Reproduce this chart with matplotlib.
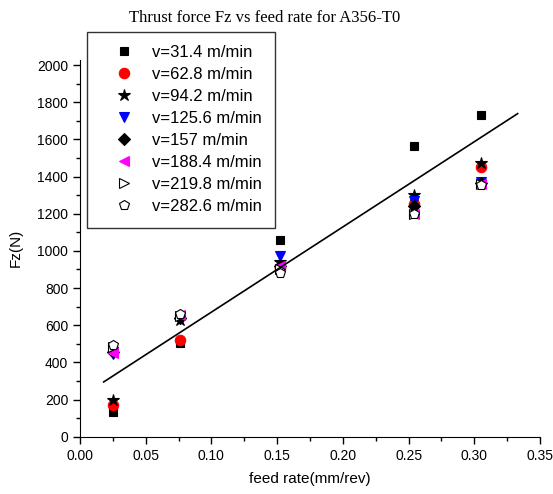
import matplotlib
matplotlib.use("Agg")
import matplotlib.pyplot as plt
import numpy as np
from matplotlib.ticker import MultipleLocator

# feed rates (mm/rev)
feed = [0.025, 0.076, 0.152, 0.254, 0.305]

# thrust force Fz (N) for each cutting speed
speeds = ["v=31.4 m/min", "v=62.8 m/min", "v=94.2 m/min", "v=125.6 m/min",
          "v=157 m/min", "v=188.4 m/min", "v=219.8 m/min", "v=282.6 m/min"]
fz_314 = [135, 505, 1060, 1565, 1730]
fz_628 = [170, 520, 910, 1250, 1450]
fz_942 = [200, 630, 940, 1300, 1475]
fz_1256 = [445, 640, 975, 1270, 1370]
fz_157 = [455, 640, 920, 1240, 1365]
fz_1884 = [450, 655, 920, 1200, 1360]
fz_2198 = [480, 650, 900, 1200, 1360]
fz_2826 = [495, 660, 880, 1200, 1355]

# fitted line
fit_slope = 4584.0
fit_intercept = 212.0
fit_x = [0.018, 0.333]

series = [fz_314, fz_628, fz_942, fz_1256, fz_157, fz_1884, fz_2198, fz_2826]
styles = [
    dict(marker='s', color='black', ms=6),
    dict(marker='o', color='red', ms=7.5),
    dict(marker='*', color='black', ms=9),
    dict(marker='v', color='blue', ms=7),
    dict(marker='D', color='black', ms=6),
    dict(marker='<', color='magenta', ms=7),
    dict(marker='>', color='black', mfc='white', ms=7),
    dict(marker='p', color='black', mfc='white', ms=7.5),
]

plt.rcParams['font.family'] = ['Liberation Sans', 'DejaVu Sans']

fig = plt.figure(figsize=(5.53, 4.94), dpi=100)
ax = fig.add_axes([80 / 553, (494 - 436.7) / 494, 460 / 553, 376.7 / 494])

for vals, lab, st in zip(series, speeds, styles):
    ax.plot(feed, vals, linestyle='none', label=lab, mec='black' if st['color'] == 'black' else st['color'],
            mew=0.8, **st)

fx = np.array(fit_x)
ax.plot(fx, fit_intercept + fit_slope * fx, color='black', lw=1.2)

ax.set_xlim(0, 0.35)
ax.set_ylim(0, 2027)
ax.xaxis.set_minor_locator(MultipleLocator(0.025))
ax.yaxis.set_minor_locator(MultipleLocator(100))
ax.set_xticks(np.arange(0, 0.351, 0.05))
ax.set_xticklabels(["%.2f" % t for t in np.arange(0, 0.351, 0.05)])
ax.set_yticks(np.arange(0, 2001, 200))
ax.spines['top'].set_visible(False)
ax.spines['right'].set_visible(False)
ax.tick_params(which='major', direction='out', length=5, width=1, labelsize=10)
ax.tick_params(which='minor', direction='out', length=3, width=1)

ax.set_xlabel('feed rate(mm/rev)', fontsize=11, labelpad=7)
ax.set_ylabel('Fz(N)', fontsize=11, labelpad=10)

fig.text(0.479, 0.963, 'Thrust force Fz vs feed rate for A356-T0',
         ha='center', va='center', fontsize=12, family='Liberation Serif')

leg = ax.legend(loc='upper left', bbox_to_anchor=(87 / 553, 1 - 32 / 494),
                bbox_transform=fig.transFigure, fontsize=12, frameon=True,
                fancybox=False, borderpad=0.8, handlelength=2.8,
                handletextpad=0.3, labelspacing=0.42, borderaxespad=0)
leg.get_frame().set_edgecolor('black')
leg.get_frame().set_linewidth(1)

plt.savefig('out.png', dpi=100)
